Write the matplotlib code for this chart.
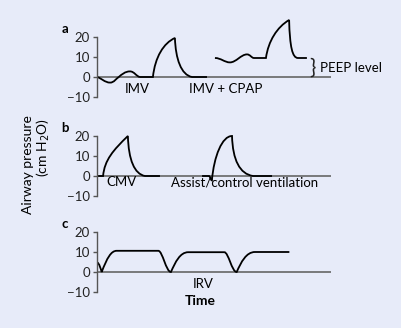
import matplotlib
matplotlib.use("Agg")
import matplotlib.pyplot as plt
from matplotlib.path import Path
from matplotlib.patches import PathPatch

plt.rcParams['font.family'] = ['Lato', 'DejaVu Sans']

W, H = 402, 328
BG = '#e7ebf9'

# pressure traces (time in arbitrary units 0-100, pressure in cm H2O)
# each segment: ('M', x, y) move, ('L', x, y) line, ('C', x1, y1, x2, y2, x, y) cubic
imv = [('M', 0, 0),
       ('C', 1.8, -0.5, 3.3, -2.8, 5.6, -2.8),
       ('C', 7.3, -2.8, 8.2, -0.8, 9.3, 0),
       ('C', 10.6, 1.3, 12.0, 2.8, 14.1, 2.8),
       ('C', 16.0, 2.8, 16.8, 0.2, 18.4, 0),
       ('L', 23.9, 0),
       ('C', 24.8, 10, 28.5, 17, 33.3, 19.5),
       ('C', 33.6, 9, 36.0, 1, 40.6, 0),
       ('L', 47.0, 0)]
imv_cpap = [('M', 50.4, 9.5),
            ('C', 53.0, 9.5, 54.5, 7.3, 56.8, 7.3),
            ('C', 59.5, 7.3, 61.5, 11.3, 64.1, 11.3),
            ('C', 65.5, 11.3, 66.0, 9.5, 67.1, 9.5),
            ('L', 72.2, 9.5),
            ('C', 73.2, 18, 77.0, 25, 82.1, 28.5),
            ('C', 82.4, 15, 83.5, 9.5, 85.9, 9.5),
            ('L', 89.7, 9.5)]
cmv = [('M', 0, 0),
       ('L', 2.6, 0),
       ('C', 3.2, 8, 7.0, 13, 13.2, 20),
       ('C', 13.5, 8, 16.0, 1, 20.5, 0),
       ('L', 26.9, 0)]
assist = [('M', 44.9, 0),
          ('L', 47.8, 0),
          ('C', 48.4, 0, 48.6, -2.2, 49.1, -2.2),
          ('C', 50.0, 10, 53.5, 20, 57.7, 20),
          ('C', 58.0, 8, 61.0, 1, 66.7, 0),
          ('L', 74.8, 0)]
irv = [('M', 0, 4.8),
       ('C', 1.0, 4.5, 1.6, 1.5, 2.0, 0),
       ('C', 4.3, 7, 6.0, 10.6, 8.4, 10.6),
       ('L', 26.2, 10.6),
       ('C', 28.0, 10.6, 29.5, 0, 31.6, 0),
       ('C', 33.5, 5, 35.5, 9.9, 39.0, 9.9),
       ('L', 54.4, 9.9),
       ('C', 56.2, 9.9, 57.6, 0, 59.7, 0),
       ('C', 61.6, 5, 63.8, 10, 67.5, 10),
       ('L', 82.2, 10)]

yticks = [-10, 0, 10, 20]
peep = 9.5


def to_path(segs):
    verts, codes = [], []
    for s in segs:
        if s[0] == 'M':
            verts.append(s[1:]); codes.append(Path.MOVETO)
        elif s[0] == 'L':
            verts.append(s[1:]); codes.append(Path.LINETO)
        else:
            verts += [s[1:3], s[3:5], s[5:7]]
            codes += [Path.CURVE4] * 3
    return Path(verts, codes)


fig = plt.figure(figsize=(W / 100, H / 100), dpi=100, facecolor=BG)


def panel(y0, letter, traces):
    ax = fig.add_axes([97 / W, 1 - (y0 + 24) / H, 234 / W, 84 / H])
    ax.set_facecolor('none')
    ax.set_xlim(0, 100)
    ax.set_ylim(-12, 30)
    for s in ['top', 'right', 'bottom']:
        ax.spines[s].set_visible(False)
    ax.spines['left'].set_bounds(-10, 20)
    ax.spines['left'].set_color('#555555')
    ax.spines['left'].set_linewidth(1)
    ax.set_xticks([])
    ax.set_yticks(yticks)
    ax.set_yticklabels([str(v).replace('-', '\u2212') for v in yticks])
    ax.tick_params(axis='y', length=3, width=1, color='#555555', pad=2,
                   labelsize=9.5, labelcolor='#222222')
    ax.axhline(0, color='#666666', lw=1.2, zorder=1)
    for tr in traces:
        ax.add_patch(PathPatch(to_path(tr), fill=False, edgecolor='black',
                               lw=1.3, zorder=2, capstyle='butt'))
    fig.text(65 / W, 1 - (y0 - 48) / H, letter, fontsize=9.5, fontweight='bold',
             ha='center', va='center')
    return ax


ax_a = panel(77, 'a', [imv, imv_cpap])
ax_a.text(17.1, -6.2, 'IMV', fontsize=9.5, ha='center', va='center')
ax_a.text(55.1, -6.2, 'IMV + CPAP', fontsize=9.5, ha='center', va='center')
ax_a.text(91.9, peep / 2, '}', fontsize=15, ha='center', va='center',
          color='#222222', clip_on=False)
ax_a.text(95.2, peep / 2, 'PEEP level', fontsize=9.5, ha='left', va='center',
          clip_on=False)

ax_b = panel(176, 'b', [cmv, assist])
ax_b.text(10.3, -3.2, 'CMV', fontsize=9.5, ha='center', va='center')
ax_b.text(63.2, -3.2, 'Assist/control ventilation', fontsize=9.5,
          ha='center', va='center')

ax_c = panel(272, 'c', [irv])
ax_c.text(45.3, -5.8, 'IRV', fontsize=9.5, ha='center', va='center')
ax_c.text(44.0, -14.5, 'Time', fontsize=10, fontweight='bold',
          ha='center', va='center', clip_on=False)

fig.text(28 / W, 1 - 165 / H, 'Airway pressure', rotation=90, fontsize=10,
         ha='center', va='center')
fig.text(43 / W, 1 - 148 / H, '(cm H$_2$O)', rotation=90, fontsize=10,
         ha='center', va='center')

fig.savefig('out.png', dpi=100, facecolor=BG)
